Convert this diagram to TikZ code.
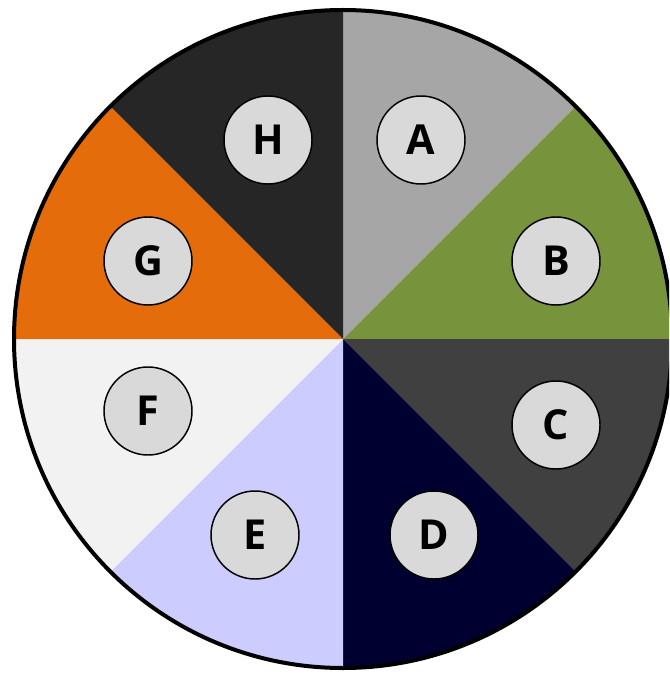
\documentclass[tikz,border=0pt]{standalone}
\usepackage{fontspec}
\setmainfont{Open Sans}
\usepackage{xcolor}
\usepackage{tikz}
\usetikzlibrary{positioning}
\definecolor{secA}{HTML}{A6A6A6}
\definecolor{secB}{HTML}{77933C}
\definecolor{secC}{HTML}{404040}
\definecolor{secD}{HTML}{000030}
\definecolor{secE}{HTML}{CCCCFF}
\definecolor{secF}{HTML}{F2F2F2}
\definecolor{secG}{HTML}{E46C0A}
\definecolor{secH}{HTML}{262626}
\definecolor{badgegray}{HTML}{D9D9D9}

\tikzset{
  badge/.style={circle, fill=badgegray, draw=black, line width=1.1pt,
                minimum size=66pt, inner sep=0pt,
                font=\fontsize{31}{31}\selectfont\bfseries}
}

\begin{document}
\begin{tikzpicture}[x=0.75pt, y=-0.75pt]
    \useasboundingbox (0,0) rectangle (669,677);
    \clip (0,0) rectangle (669,677);
    \coordinate (hub) at (343,339);
    % the eight slices (y runs downwards, so angles go clockwise)
    \foreach \from/\col in {-90/secA, -45/secB, 0/secC, 45/secD,
                            90/secE, 135/secF, 180/secG, 225/secH}{
      \fill[\col] (hub) -- ++(\from:329) arc[start angle=\from,
                  delta angle=45, radius=329] -- cycle;
    }
    \draw[line width=3pt] (hub) circle[radius=329];
    % letters
    \node[badge] (A) at (421,140) {A};
    \node[badge] (B) at (556,261) {B};
    \node[badge] (C) at (556,425) {C};
    \node[badge] (D) at (434,535) {D};
    \node[badge] (E) at (255,535) {E};
    \node[badge] (F) at (148,411) {F};
    \node[badge] (G) at (148,261) {G};
    \node[badge] (H) at (268,140) {H};
  \end{tikzpicture}
\end{document}
